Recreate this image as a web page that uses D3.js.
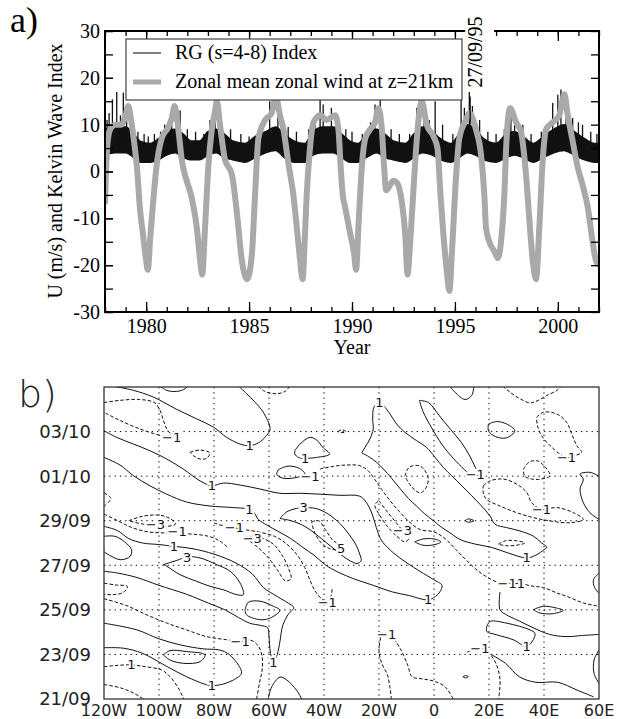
<!DOCTYPE html>
<html><head><meta charset="utf-8">
<script src="https://cdn.jsdelivr.net/npm/d3@7"></script>
<style>body{margin:0;background:#fff}svg{display:block}</style>
</head><body>
<svg id="chart" width="619" height="719"></svg>
<script>
// ---------------- Panel a data ----------------
const windT = [1978.00,1978.05,1978.12,1978.25,1978.5,1978.8,1979.0,1979.13,1979.3,1979.45,1979.55,1979.7,1979.86,1980.0,1980.08,1980.2,1980.35,1980.5,1980.75,1981.08,1981.25,1981.38,1981.55,1981.73,1981.97,1982.15,1982.3,1982.46,1982.62,1982.72,1982.86,1983.02,1983.19,1983.35,1983.43,1983.6,1983.83,1984.16,1984.4,1984.65,1984.9,1985.13,1985.29,1985.45,1985.78,1986.1,1986.3,1986.5,1986.67,1986.9,1987.15,1987.32,1987.48,1987.6,1987.7,1987.8,1987.93,1988.13,1988.45,1988.77,1989.18,1989.34,1989.45,1989.55,1989.66,1989.9,1990.1,1990.2,1990.31,1990.47,1990.64,1990.88,1991.12,1991.28,1991.45,1991.56,1991.66,1991.77,1992.0,1992.2,1992.42,1992.58,1992.7,1992.8,1992.9,1993.02,1993.15,1993.39,1993.63,1993.96,1994.15,1994.3,1994.45,1994.6,1994.73,1994.87,1995.05,1995.21,1995.54,1995.7,1996.02,1996.27,1996.43,1996.51,1996.67,1996.91,1997.08,1997.24,1997.4,1997.51,1997.68,1997.97,1998.21,1998.45,1998.62,1998.78,1998.94,1999.1,1999.26,1999.43,1999.75,2000.07,2000.32,2000.48,2000.72,2000.96,2001.21,2001.45,2001.69,2001.85,2002.0];
const windU = [-7,0,6,9,10,10,12,14,10,5,1,-8,-14,-19,-21,-14,-6,1,7,9.5,11.5,14,9.5,2.5,-2,-4.5,-7.5,-12,-19,-22,-12,1,9,13,15,9.5,2.5,-0.5,-8.5,-19,-23,-18,-5,7,11,12.5,16,12,9,2,-5,-12,-19,-23,-15,-5,3.5,10.5,12,11,12,9,1,-5,-7.5,-13,-17.5,-21,-12,0.5,7,9,10.5,13.5,9,1,-4,-3.5,-2,-2.5,-6.5,-13,-22,-17,-10,-1.5,7,15,10,7.5,5,-5,-14,-21,-25.5,-16,-1.5,7,11,12.5,9,3.5,-5,-12,-15,-17,-18.5,-15,-5,7,13.5,10.5,8.5,-0.5,-10.5,-19,-23,-12,2,9,10.5,12,16.5,12,6.5,1,-3,-7.5,-15,-19,-20];

const rgT = [1978.0,1978.5,1979.0,1979.4,1979.7,1980.2,1980.6,1981.0,1981.4,1981.8,1982.2,1982.6,1983.0,1983.4,1983.8,1984.2,1984.8,1985.3,1985.8,1986.3,1986.7,1987.2,1987.7,1988.1,1988.6,1989.1,1989.5,1989.9,1990.3,1990.7,1991.2,1991.6,1992.0,1992.6,1993.0,1993.4,1993.9,1994.3,1994.8,1995.2,1995.6,1996.0,1996.4,1997.0,1997.5,1997.9,1998.3,1998.8,1999.3,1999.8,2000.3,2000.8,2001.3,2001.8,2002.0];
const rgLow = [3.5,4,4,3,2,2,2.5,3.5,4,3,2.5,2.5,3.5,4,3,2.5,2,3,4,4.5,3,2,2,3.5,4,4,3,2,2,3,4,3,2.5,2,3,4,3.5,2.5,2,3,4,3.5,2.5,2,3,3.5,3,2,3,4,4.5,3.5,2.5,2,2];
const rgHigh = [9,9.5,9.5,8,6.5,6,7,8.5,9,8,6.5,6.5,8.5,9,8,6.5,6,7.5,8.5,9.5,8,6.5,6,8.5,9.5,9.5,8,6.5,6,8,9,8,6.5,6,8,9.5,8.5,7,6,8,10,9,7,6,8,8.5,7.5,6,7.5,9,10,8.5,7,6,6];
const rgSpikeT = [1978.1,1978.2,1978.36,1978.57,1978.75,1978.89,1979.05,1979.3,1979.6,1979.9,1980.1,1980.4,1980.7,1980.9,1981.1,1981.24,1981.5,1981.65,1982.0,1982.4,1982.8,1983.1,1983.35,1983.6,1984.1,1984.6,1985.0,1985.6,1986.0,1986.4,1986.9,1987.3,1987.9,1988.2,1988.45,1988.6,1989.0,1989.25,1989.7,1990.0,1990.5,1990.9,1991.12,1991.37,1991.9,1992.3,1992.8,1993.15,1993.5,1993.75,1994.04,1994.4,1994.9,1995.3,1995.46,1995.7,1995.85,1996.2,1996.6,1997.0,1997.4,1997.72,1997.9,1998.3,1998.7,1999.2,1999.5,1999.75,2000.0,2000.15,2000.4,2000.72,2001.0,2001.2,2001.6,2001.9];
const rgSpikeV = [11,12.5,15.4,17,12,16.8,14,11,8.5,8,7.5,8,8.5,10,11,13.6,11,13,9,8.5,8,11,13.6,12.5,9,8,7.5,10,15,12,9.5,8.5,9,11.5,16.8,14.3,13.6,12,9,8.5,8,10.5,14.3,15.5,9,8,8,13.6,12,11,15,10,8,15.4,13.6,17,14,11,8.5,8,9,11.4,12,10,8,8.5,10,14.6,16.4,17.5,13,11.4,10.5,10,8.5,8];

const yearTicks = [1980,1985,1990,1995,2000];
const uTicks = [-30,-20,-10,0,10,20,30];
const eventYear = 1995.74;
const eventLabel = "27/09/95";
const legendLabels = ["RG (s=4-8) Index","Zonal mean zonal wind at z=21km"];

// ---------------- Panel b data ----------------
const lonTicks = [-120,-100,-80,-60,-40,-20,0,20,40,60];
const lonTickLabels = ["120W","100W","80W","60W","40W","20W","0","20E","40E","60E"];
const dayTicks = [0,2,4,6,8,10,12];
const dayTickLabels = ["21/09","23/09","25/09","27/09","29/09","01/10","03/10"];
// contour lines: level, then [lon, days since 21/09 00Z]
const contourLevel = [1,3,-1,-1,-1,-1,1,1,-1,1,-1,
  1,3,1,3,3,-1,-1,3,1,-1,-1,1,-1,-1,1,1,-1,1,1,3,5,-1,-3,-3,-1,-3,-1,-1,-1,1,
  1,-1,1,1,-1,-1,-1];
const contourLines = [
 [[-116.7,14.04],[-109.3,13.85],[-102.1,13.55],[-93.6,13.0],[-86.3,12.57],[-80.2,12.2],[-75.4,11.74],[-70.5,11.44],[-67,11.37],[-63.9,11.49],[-60.9,11.82],[-59.6,12.12],[-62.1,12.87],[-65.1,13.32],[-68.1,13.7],[-71.1,14.04]],
 [[-99.6,14.04],[-97.2,13.85],[-93.6,13.8],[-90.5,13.92],[-89.7,14.04]],
 [[-120,13.3],[-114.2,13.4],[-107,13.44],[-101.5,13.29],[-99.6,12.94],[-98.4,12.5],[-97.2,12.12],[-95.8,11.85],[-97.5,11.8],[-100.2,11.85],[-107,12.12],[-114.2,12.5],[-119,12.8],[-120,12.87]],
 [[-88.7,11.07],[-85.1,11.17],[-81.5,11.04],[-82.7,10.8],[-85.1,10.77],[-87.5,10.92],[-88.7,11.07]],
 [[-63.9,14.04],[-61.5,13.8],[-57.2,13.7],[-54.2,13.8],[-52.4,14.04]],
 [[-35,12.0],[-33.5,12.08],[-32,12.0],[-33.5,11.95],[-35,12.0]],
 [[-50.6,11.14],[-48.7,11.44],[-45.1,11.74],[-42.5,11.6],[-40.5,11.3],[-38,10.99],[-42.7,10.84],[-46.9,10.8],[-49.3,10.84],[-50.6,10.99],[-50.6,11.14]],
 [[5.8,14.04],[7.6,13.77],[11.3,13.44],[13.7,13.62],[14.5,14.04]],
 [[25,14.04],[27.6,13.77],[31.3,13.47],[34.9,13.29],[37.9,13.4],[41,13.62],[44.6,13.84],[46.4,14.04]],
 [[19.8,12.34],[22.8,12.45],[26.4,12.34],[29.4,12.04],[27.6,11.79],[25.2,11.7],[21.6,11.82],[19.8,12.04],[19.8,12.34]],
 [[37.3,12.64],[39.8,12.87],[44.6,12.79],[48.2,12.42],[50.1,11.89],[51.9,11.37],[53.7,11.07],[51.9,10.95],[48.2,10.84],[45.8,10.99],[42.2,11.37],[39.1,11.82],[37.6,12.27],[37.3,12.64]],
 // long positive band boundary (upper edge, tip near 0, lower edge back to west border)
 [[-120,12.04],[-115.4,11.74],[-109.3,11.44],[-103.3,11.14],[-97.2,10.77],[-91.2,10.32],[-85.1,9.79],[-80.8,9.57],[-76.6,9.69],[-70.5,9.6],[-63.2,9.42],[-56,9.23],[-48.7,9.23],[-41.5,9.19],[-34.2,9.14],[-27,9.1],[-24.5,8.8],[-22.5,8.3],[-21,7.7],[-19.5,7.2],[-18.4,7.0],[-14.8,6.56],[-9.9,6.11],[-5.1,5.73],[-0.2,5.36],[2.9,5.1],[2.1,4.8],[0.5,4.6],[-2.1,4.45],[-9.3,4.65],[-15,4.8],[-22.1,5.1],[-29.3,5.4],[-35,5.7],[-39.3,6.0],[-43.6,6.45],[-47.9,6.82],[-52.1,7.2],[-56.4,7.5],[-60.7,7.8],[-63.9,8.06],[-65.4,8.36],[-67.1,8.51],[-73,8.59],[-81.5,8.66],[-90,8.84],[-97.2,9.19],[-103.3,9.57],[-109.3,10.02],[-114.2,10.5],[-120,10.84]],
 // west-border loop
 [[-120,7.3],[-116,7.3],[-112.5,7.05],[-110,6.7],[-110.5,6.4],[-114,6.25],[-118,6.45],[-120,6.6]],
 // band with the 3-loop, the small loop at 60W and the tip reaching 23/09
 [[-120,7.75],[-115,7.55],[-111,7.2],[-106,7.0],[-100,6.93],[-94.6,6.85],[-88,6.75],[-80,6.5],[-72,6.1],[-66,5.6],[-62,5.0],[-57,4.6],[-53,4.3],[-51,4.1],[-53,3.8],[-55,3.3],[-56,2.6],[-57,2.0],[-58.4,1.65],[-59.5,2.1],[-60,2.8],[-60.5,3.2],[-63,3.3],[-67,3.4],[-71,3.65],[-76,4.0],[-82,4.3],[-90,4.7],[-100,5.1],[-108,5.45],[-115,5.65],[-120,5.73]],
 [[-98.4,6.03],[-93.5,6.22],[-89.7,6.38],[-85.1,6.33],[-79,6.03],[-74.1,5.73],[-70.5,5.2],[-69.3,4.68],[-71.7,4.68],[-76.6,4.9],[-81.5,5.06],[-86.3,5.28],[-92.4,5.58],[-97.2,5.96],[-98.4,6.03]],
 [[-68.7,4.0],[-67.5,4.34],[-63.3,4.39],[-58.4,4.16],[-56,3.98],[-59.6,3.63],[-63.3,3.56],[-68.2,3.78],[-68.7,4.0]],
 [[-120,4.5],[-112,4.2],[-104,3.75],[-97.2,3.41],[-90,3.1],[-82.7,2.8],[-75.4,2.66],[-70.5,2.58],[-67,2.65],[-64,2.4],[-62.5,1.9],[-62.5,1.3],[-63.5,0.7],[-64.5,0]],
 [[-120,5.2],[-116,5.12],[-111.5,5.05],[-113,4.78],[-117,4.68],[-120,4.7]],
 [[-98.4,1.98],[-96,2.17],[-90,2.13],[-83.3,1.98],[-85,1.68],[-91,1.6],[-96,1.75],[-98.4,1.98]],
 [[-120,3.4],[-108,3.1],[-100,2.7],[-92,2.42],[-84,2.25],[-78,2.2],[-74.5,2.0],[-71,1.5],[-70,1.15],[-73,0.85],[-77,0.66],[-80.8,0.6],[-83,0.65],[-90,1.0],[-97,1.45],[-106,2.05],[-113,2.28],[-120,2.3]],
 [[-120,1.45],[-116,1.5],[-110,1.53],[-105,1.45],[-99,1.3],[-96,1.0],[-93,0.5],[-91,0]],
 [[-120,0.65],[-114,0.5],[-109,0.25],[-105.7,0]],
 [[-60.3,0],[-59,0.55],[-56,0.98],[-53.5,0.85],[-50,0.4],[-48.1,0]],
 [[-19,3.0],[-20,2.2],[-19,1.6],[-17,1.1],[-16,0.5],[-15.5,0]],
 [[-14.5,2.7],[-12,2.2],[-9.5,1.5],[-8,1.0],[-4,0.9],[0,0.8],[4,0.55],[7,0]],
 [[10.5,1.0],[11.5,1.05],[12.5,1.0],[11.5,0.95],[10.5,1.0]],
 [[19.2,3.25],[20.4,3.48],[26.5,3.4],[34.9,3.1],[36.7,2.95],[36.1,2.66],[33.7,2.36],[28.8,2.66],[22.8,2.88],[19.2,3.03],[19.2,3.25]],
 [[12,2.1],[16.7,2.28],[20,2.05],[22.5,1.6],[24,0.9],[23.5,0]],
 [[20,2.05],[26,1.6],[31,1.0],[37,0.75],[45,0.75],[52,0.4],[58,0.1]],
 [[60,2.2],[58.2,1.75],[58.2,1.15],[60,0.7]],
 [[60,5.65],[58,5.35],[58.4,5.0],[60,4.75]],
 [[-56,8.1],[-53.5,8.4],[-50,8.55],[-47.4,8.58],[-43,8.55],[-38.5,8.3],[-34,7.85],[-31,7.4],[-28.5,6.95],[-27,6.5],[-26.5,6.2],[-28,6.08],[-30.5,6.2],[-33,6.4],[-36,6.7],[-39,7.0],[-43,7.4],[-47,7.75],[-52,8.0],[-56,8.1]],
 [[-44.5,7.95],[-42,8.0],[-39.5,7.6],[-37,7.15],[-33.5,6.8],[-35,6.7],[-38,6.75],[-41,7.0],[-43.5,7.5],[-44.5,7.95]],
 [[-41.5,10.32],[-36.6,10.44],[-31.8,10.5],[-27,10.47],[-24,10.25],[-21.5,9.85],[-19,9.4],[-16,8.9],[-12.5,8.4],[-9,7.95],[-5,7.6],[0,7.5],[4,7.2],[8,6.7],[12,6.2],[16,5.75],[20,5.42],[23,5.25],[26.6,5.2],[31.6,5.17],[36,5.06],[39.8,5.0],[44.6,4.76],[48.2,4.61],[54.3,4.31],[60,4.16]],
 [[-20,8.9],[-17,8.4],[-14,7.95],[-11.5,7.57],[-9,7.25],[-10.5,7.05],[-13.5,7.3],[-17,7.75],[-20,8.3],[-21.5,8.7],[-20,8.9]],
 [[-69,7.25],[-66,7.3],[-62,7.2],[-58,6.9],[-55,6.4],[-53,5.9],[-52,5.4],[-54,5.3],[-57,5.8],[-60,6.3],[-64,6.8],[-69,7.25]],
 [[-80,7.9],[-76,7.75],[-72.6,7.68],[-69,7.6],[-64,7.5],[-58,7.3],[-54,7.0],[-50,6.5],[-47,5.9],[-45,5.3],[-43,4.8],[-40,4.4],[-38.8,4.35],[-37.5,4.6],[-37,5.0]],
 [[-111,8.0],[-106,8.2],[-100,8.25],[-96,8.1],[-94,7.85],[-97,7.75],[-101.3,7.83],[-106,7.85],[-111,8.0]],
 [[-120,8.3],[-115,8.0],[-110,7.7],[-104,7.5],[-98,7.45],[-93.4,7.42],[-88,7.4],[-82,7.3],[-78,7.1],[-75,6.8]],
 [[-120,9.25],[-117.5,9.0],[-120,8.65]],
 [[-5.3,13.4],[-2,13.3],[2,12.7],[6,12.1],[10,11.5],[13,10.9],[15,10.4],[16.2,10.07],[14,10.0],[11,10.3],[7,10.8],[3,11.4],[-1,12.2],[-4,12.9],[-5.3,13.4]],
 // tongue from 20W near top down to 35E
 [[-26.3,11.04],[-23.9,10.89],[-20.9,10.62],[-18.4,10.32],[-15.4,9.9],[-12.4,9.45],[-9.3,9.0],[-6.3,8.65],[-3.3,8.3],[-0.2,8.0],[2.8,7.7],[5.8,7.46],[9.4,7.16],[15,6.95],[21,6.8],[27,6.55],[33.7,6.33],[37,6.45],[40,6.7],[41,6.8],[39.1,7.01],[36.1,7.31],[31.3,7.54],[26.4,7.69],[22.2,7.84],[20.4,8.21],[17.3,8.66],[13.7,9.12],[10.1,9.57],[6.4,10.02],[3.4,10.39],[0.4,10.84],[-2.7,11.29],[-6.3,11.59],[-10.6,11.97],[-13.6,12.34],[-16,12.79],[-18.4,13.17],[-19.9,13.3],[-21.8,13.1],[-22.3,12.57],[-22.1,12.12],[-23.3,11.67],[-25.1,11.29],[-26.3,11.04]],
 [[23.4,6.95],[26,7.1],[30,7.1],[33,7.0],[30,6.9],[26,6.88],[23.4,6.95]],
 [[-56.5,10.3],[-53,10.45],[-49,10.35],[-47,10.1],[-52,9.9],[-56,9.95],[-57.2,10.1],[-56.5,10.3]],
 [[60,10.0],[56.7,10.17],[53.1,10.09],[54.3,9.87],[53.1,9.42],[54.3,8.81],[56.7,8.36],[60,8.06]],
 [[17.9,9.57],[20.4,9.79],[25.2,9.87],[30.1,9.64],[33.7,9.27],[35.5,8.81],[39.1,8.51],[44.6,8.59],[50.7,8.36],[54.3,8.06],[49.5,7.91],[42.2,7.99],[36.1,8.14],[30.1,8.36],[24,8.66],[19.1,8.96],[17.9,9.27],[17.9,9.57]],
 [[32.5,10.3],[34.5,10.62],[37.5,10.69],[40.5,10.4],[42.2,10.02],[39,9.87],[35.5,9.87],[33,10.0],[32.5,10.3]],
 [[-10.6,10.0],[-9,10.4],[-5,10.45],[-2.2,9.95],[-2.8,9.5],[-5,9.25],[-8,9.5],[-10.6,10.0]],
 [[11.3,8.0],[12.5,8.08],[14.5,8.0],[12.5,7.93],[11.3,8.0]],
 [[-7,7.05],[-4,7.18],[0,7.18],[2.5,7.05],[0,6.92],[-4,6.9],[-7,7.05]],
 [[24,4.8],[24,4.0],[26,3.8],[31,3.5],[36,3.2],[42,2.9],[48,2.8],[54,2.85],[60,2.9]],
 [[36.1,4.01],[39.8,4.16],[44.6,4.08],[47,3.98],[43.4,3.83],[38.5,3.86],[36.1,4.01]]
];
const labelLon = [-67,-95.4,-46.9,48.2,-80.8,-67.1,-2.1,-94.6,-89.8,-70.5,-58.4,-80.8,-110,-17.2,16.7,33.7,33.7,26.6,31.6,-19.9,-47.4,-33.8,-11.5,-66.1,-72.6,-101.3,-93.4,-38.8,15.0,-45.1,39.1];
const labelDay = [11.37,11.75,10.8,10.84,9.57,8.51,4.45,6.85,6.37,2.58,1.65,0.6,1.53,2.88,2.28,2.36,6.33,5.2,5.2,13.3,8.58,6.75,7.57,7.2,7.68,7.83,7.52,4.35,10.07,10.0,8.51];
const labelText = ["1","-1","1","-1","1","1","1","1","3","-1","1","1","1","-1","-1","1","1","-1","1","1","3","5","-3","-3","-1","-3","-1","-1","-1","-1","-1"];

// ---------------- drawing ----------------
const svg = d3.select("#chart");
const serif = "'Liberation Serif','Times New Roman',serif";
const sans = "'DejaVu Sans',sans-serif";

// Panel a
const ax = d3.scaleLinear().domain([1978,2002]).range([105,599]);
const ay = d3.scaleLinear().domain([-30,30]).range([312,31]);
const ga = svg.append("g");
ga.append("clipPath").attr("id","clipA").append("rect")
  .attr("x",105).attr("y",31).attr("width",494).attr("height",281);
const plotA = ga.append("g").attr("clip-path","url(#clipA)");

const rgData = rgT.map((t,i)=>({t, lo:rgLow[i], hi:rgHigh[i]}));
plotA.append("path").datum(rgData)
  .attr("d", d3.area().x(d=>ax(d.t)).y0(d=>ay(d.lo)).y1(d=>ay(d.hi)).curve(d3.curveMonotoneX))
  .attr("fill","#111").attr("stroke","#111").attr("stroke-width",1.5);
plotA.selectAll("line.spk").data(rgSpikeT.map((t,i)=>({t,v:rgSpikeV[i]})))
  .join("line").attr("class","spk")
  .attr("x1",d=>ax(d.t)).attr("x2",d=>ax(d.t))
  .attr("y1",ay(5)).attr("y2",d=>ay(d.v))
  .attr("stroke","#111").attr("stroke-width",1.3);

const windData = windT.map((t,i)=>({t,u:windU[i]}));
plotA.append("path").datum(windData)
  .attr("d", d3.line().x(d=>ax(d.t)).y(d=>ay(d.u)).curve(d3.curveMonotoneX))
  .attr("fill","none").attr("stroke","#a9a9a9").attr("stroke-width",6)
  .attr("stroke-linejoin","round");

function styleAxis(g){ g.select(".domain").remove(); g.selectAll("line").attr("stroke","#000").attr("stroke-width",1.3);
  g.selectAll("text").attr("font-family",serif).attr("font-size",20).attr("fill","#000"); }
ga.append("g").attr("transform","translate(0,312)")
  .call(d3.axisBottom(ax).tickValues(d3.range(1978,2003)).tickSize(-5).tickFormat(""))
  .call(styleAxis);
ga.append("g").attr("transform","translate(0,312)")
  .call(d3.axisBottom(ax).tickValues(yearTicks).tickSize(-10).tickPadding(7).tickFormat(d=>String(d)))
  .call(styleAxis);
ga.append("g").attr("transform","translate(0,31)")
  .call(d3.axisTop(ax).tickValues(d3.range(1978,2003)).tickSize(-5).tickFormat(""))
  .call(styleAxis);
ga.append("g").attr("transform","translate(0,31)")
  .call(d3.axisTop(ax).tickValues(yearTicks).tickSize(-10).tickFormat(""))
  .call(styleAxis);
ga.append("g").attr("transform","translate(105,0)")
  .call(d3.axisLeft(ay).tickValues(d3.range(-30,31,5)).tickSize(-8).tickFormat(""))
  .call(styleAxis);
ga.append("g").attr("transform","translate(105,0)")
  .call(d3.axisLeft(ay).tickValues(uTicks).tickSize(-8).tickPadding(5).tickFormat(d=>String(d)))
  .call(styleAxis);
ga.append("g").attr("transform","translate(599,0)")
  .call(d3.axisRight(ay).tickValues(d3.range(-30,31,5)).tickSize(-8).tickFormat(""))
  .call(styleAxis);
ga.append("rect").attr("x",105).attr("y",31).attr("width",494).attr("height",281)
  .attr("fill","none").attr("stroke","#000").attr("stroke-width",2);

const ex = ax(eventYear);
ga.append("rect").attr("x",ex-5).attr("y",8).attr("width",29).attr("height",82).attr("fill","#fff");
ga.append("line").attr("x1",ex).attr("x2",ex).attr("y1",ay(16)).attr("y2",ay(10))
  .attr("stroke","#000").attr("stroke-width",1.2);
ga.append("text").attr("transform",`translate(${ex+12},52) rotate(-90)`)
  .attr("text-anchor","middle").attr("font-family",serif).attr("font-size",20).text(eventLabel);

const lg = ga.append("g");
lg.append("rect").attr("x",126).attr("y",39).attr("width",336).attr("height",61)
  .attr("fill","#fff").attr("stroke","#444").attr("stroke-width",1.2);
lg.append("line").attr("x1",133).attr("x2",161).attr("y1",53).attr("y2",53).attr("stroke","#000").attr("stroke-width",1);
lg.append("line").attr("x1",133).attr("x2",161).attr("y1",82).attr("y2",82).attr("stroke","#a9a9a9").attr("stroke-width",5);
lg.selectAll("text").data(legendLabels).join("text")
  .attr("x",175).attr("y",(d,i)=>59+i*29).attr("font-family",serif).attr("font-size",20).text(d=>d);

ga.append("text").attr("x",352).attr("y",354).attr("text-anchor","middle")
  .attr("font-family",serif).attr("font-size",20).text("Year");
ga.append("text").attr("transform","translate(62,171) rotate(-90)").attr("text-anchor","middle")
  .attr("font-family",serif).attr("font-size",20).text("U (m/s) and Kelvin Wave Index");
ga.append("text").attr("x",10).attr("y",32).attr("font-family",serif).attr("font-size",36).text("a)");

// Panel b
const bx = d3.scaleLinear().domain([-120,60]).range([104,599]);
const by = d3.scaleLinear().domain([0,14]).range([699,387]);
const gb = svg.append("g");
gb.append("clipPath").attr("id","clipB").append("rect")
  .attr("x",104).attr("y",387).attr("width",495).attr("height",312);
const plotB = gb.append("g").attr("clip-path","url(#clipB)");
plotB.selectAll("line.vg").data(lonTicks.slice(1,-1)).join("line").attr("class","vg")
  .attr("x1",d=>bx(d)).attr("x2",d=>bx(d)).attr("y1",387).attr("y2",699)
  .attr("stroke","#000").attr("stroke-width",1).attr("stroke-dasharray","1.3,4");
plotB.selectAll("line.hg").data(dayTicks.slice(1)).join("line").attr("class","hg")
  .attr("y1",d=>by(d)).attr("y2",d=>by(d)).attr("x1",104).attr("x2",599)
  .attr("stroke","#000").attr("stroke-width",1).attr("stroke-dasharray","1.3,4");

const cline = d3.line().x(d=>bx(d[0])).y(d=>by(d[1])).curve(d3.curveCatmullRom.alpha(0.5));
plotB.selectAll("path.ct").data(contourLines).join("path").attr("class","ct")
  .attr("d",cline).attr("fill","none").attr("stroke","#111").attr("stroke-width",1)
  .attr("stroke-dasharray",(d,i)=>contourLevel[i]<0?"3.5,2":null);
plotB.selectAll("text.cl").data(labelText).join("text").attr("class","cl")
  .attr("x",(d,i)=>bx(labelLon[i])).attr("y",(d,i)=>by(labelDay[i])).attr("dy","0.35em")
  .attr("text-anchor","middle").attr("font-family",sans).attr("font-size",13)
  .attr("fill","#111").attr("stroke","#fff").attr("stroke-width",4).attr("paint-order","stroke")
  .text(d=>d.replace("-","\u2212"));

gb.append("rect").attr("x",104).attr("y",387).attr("width",495).attr("height",312)
  .attr("fill","none").attr("stroke","#222").attr("stroke-width",1.2);
gb.selectAll("text.yl").data(dayTicks).join("text").attr("class","yl")
  .attr("x",91).attr("y",d=>by(d)).attr("dy","0.36em").attr("text-anchor","end")
  .attr("font-family",sans).attr("font-size",18).attr("fill","#222")
  .text((d,i)=>dayTickLabels[i]);
gb.selectAll("text.xl").data(lonTicks).join("text").attr("class","xl")
  .attr("x",d=>bx(d)).attr("y",716).attr("text-anchor","middle")
  .attr("font-family",sans).attr("font-size",16).attr("fill","#222")
  .text((d,i)=>lonTickLabels[i]);
gb.append("text").attr("x",18).attr("y",407).attr("font-family",sans).attr("font-weight",200)
  .attr("font-size",38).attr("fill","#222").text("b)");
</script>
</body></html>
